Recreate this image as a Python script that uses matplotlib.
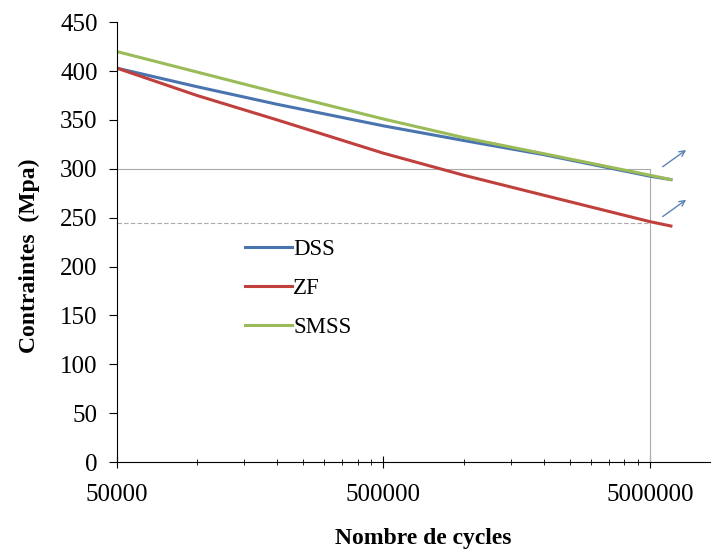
import matplotlib.pyplot as plt
from matplotlib.ticker import FixedLocator, NullFormatter

plt.rcParams['font.family'] = ['Liberation Serif', 'DejaVu Serif']

# nombre de cycles
cycles = [5e4, 1e5, 2e5, 5e5, 1e6, 2e6, 5e6, 6e6]
dss = [403, 384, 366, 344, 329, 314.5, 292.5, 289]
zf = [403, 375, 350, 316, 293.5, 273, 246, 241.5]
smss = [420, 399, 378, 351, 332, 315.5, 293.5, 289]

x_major = [50000, 500000, 5000000]
x_minor = [k * 50000 for k in range(2, 10)] + [k * 500000 for k in range(2, 10)]
y_ticks = [0, 50, 100, 150, 200, 250, 300, 350, 400, 450]

ref_cycles = 5e6
ref_stress = [300, 245]
arrows = [((5.48e6, 300.5), (6.98e6, 321)), ((5.48e6, 249.5), (6.98e6, 270))]

fig = plt.figure(figsize=(7.23, 5.56), dpi=100)
ax = fig.add_axes([0.1618, 0.169, 0.82, 0.791])

# lignes de repere
ax.plot([cycles[0], ref_cycles], [ref_stress[0]] * 2, color='#ababab', lw=0.8)
ax.plot([cycles[0], ref_cycles], [ref_stress[1]] * 2, color='#ababab', lw=0.8, ls=(0, (4, 2)))
ax.plot([ref_cycles, ref_cycles], [0, ref_stress[0]], color='#ababab', lw=0.8)

ax.plot(cycles, dss, color='#4a74b0', lw=2.2, label='DSS')
ax.plot(cycles, zf, color='#c0403d', lw=2.2, label='ZF')
ax.plot(cycles, smss, color='#9bbb59', lw=2.2, label='SMSS')

for tail, head in arrows:
    ax.annotate('', xy=head, xytext=tail,
                arrowprops=dict(arrowstyle='->', color='#5b84b5', lw=1.0))

ax.set_xscale('log')
ax.set_xlim(5e4, 8.4e6)
ax.set_ylim(0, 450)
ax.xaxis.set_major_locator(FixedLocator(x_major))
ax.xaxis.set_minor_locator(FixedLocator(x_minor))
ax.xaxis.set_minor_formatter(NullFormatter())
ax.set_xticklabels([str(v) for v in x_major])
ax.set_yticks(y_ticks)

ax.spines['top'].set_visible(False)
ax.spines['right'].set_visible(False)
ax.tick_params(axis='x', which='major', direction='inout', length=8, labelsize=18, pad=12)
ax.tick_params(axis='x', which='minor', direction='inout', length=5)
ax.tick_params(axis='y', direction='out', length=6, labelsize=18, pad=8)

ax.set_ylabel('Contraintes  (Mpa)', fontsize=17, fontweight='bold')
ax.yaxis.set_label_coords(-0.13, 0.468)
ax.set_xlabel('Nombre de cycles', fontsize=17, fontweight='bold')
ax.xaxis.set_label_coords(0.516, -0.15)

ax.legend(loc='upper left', bbox_to_anchor=(0.216, 0.508), frameon=False,
          fontsize=16.5, handlelength=2.05, handletextpad=0.05,
          labelspacing=0.8, borderpad=0, borderaxespad=0)

fig.savefig('out.png', dpi=100)
